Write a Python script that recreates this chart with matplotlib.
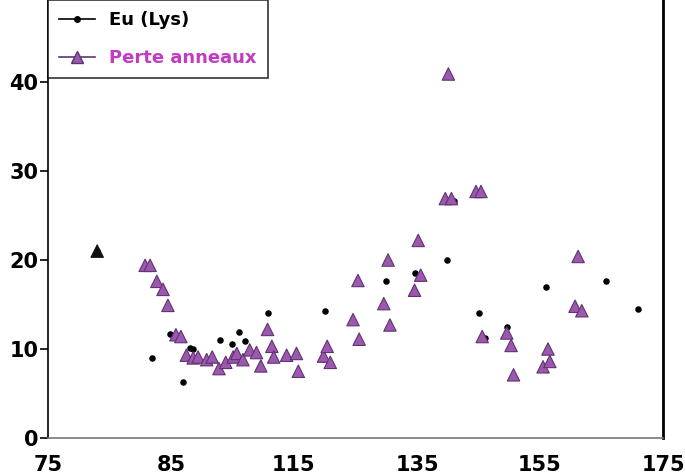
import matplotlib
matplotlib.use("Agg")
import matplotlib.pyplot as plt
from matplotlib.lines import Line2D

# Eu (Lys) series (small black dots)
eu_x = [83.0, 91.9, 94.8, 96.9, 98.1, 98.6, 103.0, 104.9, 106.0, 107.0, 110.8,
        120.0, 129.9, 134.7, 139.9, 141.0, 145.0, 146.0, 149.7, 155.9, 165.8, 171.0]
eu_y = [21.0, 9.0, 11.7, 6.3, 10.1, 10.0, 11.0, 10.6, 11.9, 10.9, 14.0,
        14.3, 17.6, 18.5, 20.0, 26.6, 14.0, 11.2, 12.5, 17.0, 17.6, 14.5]

# Perte anneaux series (purple triangles)
pa_x = [83.0, 90.8, 91.6, 92.7, 93.7, 94.5, 95.8, 96.6, 97.5, 98.6, 99.4, 100.8,
        101.7, 102.8, 103.9, 105.1, 105.7, 106.7, 107.8, 108.9, 109.6, 110.7,
        111.4, 111.7, 113.8, 115.4, 115.7, 119.8, 120.4, 120.9, 124.6, 125.4,
        125.6, 129.6, 130.3, 130.6, 134.6, 135.2, 135.6, 139.6, 140.6, 140.1,
        144.6, 145.4, 145.6, 149.6, 150.3, 150.7, 155.5, 156.3, 156.6, 160.7,
        161.2, 161.8]
pa_y = [21.0, 19.4, 19.4, 17.6, 16.7, 14.9, 11.6, 11.4, 9.3, 9.0, 9.1, 8.8,
        9.1, 7.8, 8.5, 9.1, 9.5, 8.8, 9.9, 9.6, 8.1, 12.2,
        10.3, 9.1, 9.3, 9.5, 7.5, 9.2, 10.3, 8.5, 13.3, 17.7,
        11.1, 15.1, 20.0, 12.7, 16.6, 22.2, 18.3, 26.9, 26.9, 40.9,
        27.7, 27.7, 11.4, 11.8, 10.4, 7.1, 8.0, 10.0, 8.6, 14.8,
        20.4, 14.3]

x_ticks = [75, 95, 115, 135, 155, 175]
x_tick_labels = ["75", "85", "115", "135", "155", "175"]
y_ticks = [0, 10, 20, 30, 40]
y_tick_labels = ["0", "10", "20", "30", "40"]

series_labels = ["Eu (Lys)", "Perte anneaux"]

purple = "#9c58ac"
purple_edge = "#5e3373"

fig = plt.figure(figsize=(6.85, 4.74), dpi=100)
ax = fig.add_axes([48/685, 36/474, (663-48)/685, 438/474])

ax.scatter(eu_x, eu_y, s=22, color="black", marker="o", zorder=2, linewidths=0)
tri_colors = ["#111111"] + [purple] * (len(pa_x) - 1)
tri_edges = ["#111111"] + [purple_edge] * (len(pa_x) - 1)
ax.scatter(pa_x, pa_y, s=80, c=tri_colors, edgecolors=tri_edges, marker="^",
           linewidths=0.8, zorder=3)

ax.set_xlim(75, 175)
ax.set_ylim(0, 438/8.9)
ax.set_xticks(x_ticks)
ax.set_xticklabels(x_tick_labels, fontsize=15, fontweight="bold",
                   family="DejaVu Sans")
ax.set_yticks(y_ticks)
ax.set_yticklabels(y_tick_labels, fontsize=15, fontweight="bold",
                   family="DejaVu Sans")
ax.tick_params(axis="x", length=0, pad=12)
ax.tick_params(axis="y", length=6, width=1.2, direction="out", pad=1)

ax.spines["top"].set_visible(False)
ax.spines["right"].set_linewidth(2.0)
ax.spines["left"].set_linewidth(1.2)
ax.spines["bottom"].set_color("#777777")
ax.spines["bottom"].set_linewidth(1.2)

handles = [
    Line2D([], [], color="black", marker="o", markersize=4, lw=1.2),
    Line2D([], [], color=purple_edge, marker="^", markersize=8,
           markerfacecolor=purple, lw=1.2),
]
leg = ax.legend(handles, series_labels, loc="lower left",
                bbox_to_anchor=(0.0, (438-78)/438), frameon=True, fancybox=False,
                edgecolor="black", borderaxespad=0, handlelength=2.0,
                handletextpad=0.8, labelspacing=1.1, borderpad=0.6,
                prop={"family": "DejaVu Sans", "weight": "bold", "size": 13})
leg.get_frame().set_linewidth(1.2)
leg.get_texts()[1].set_color("#c03cc0")

fig.savefig("out.png", dpi=100)
